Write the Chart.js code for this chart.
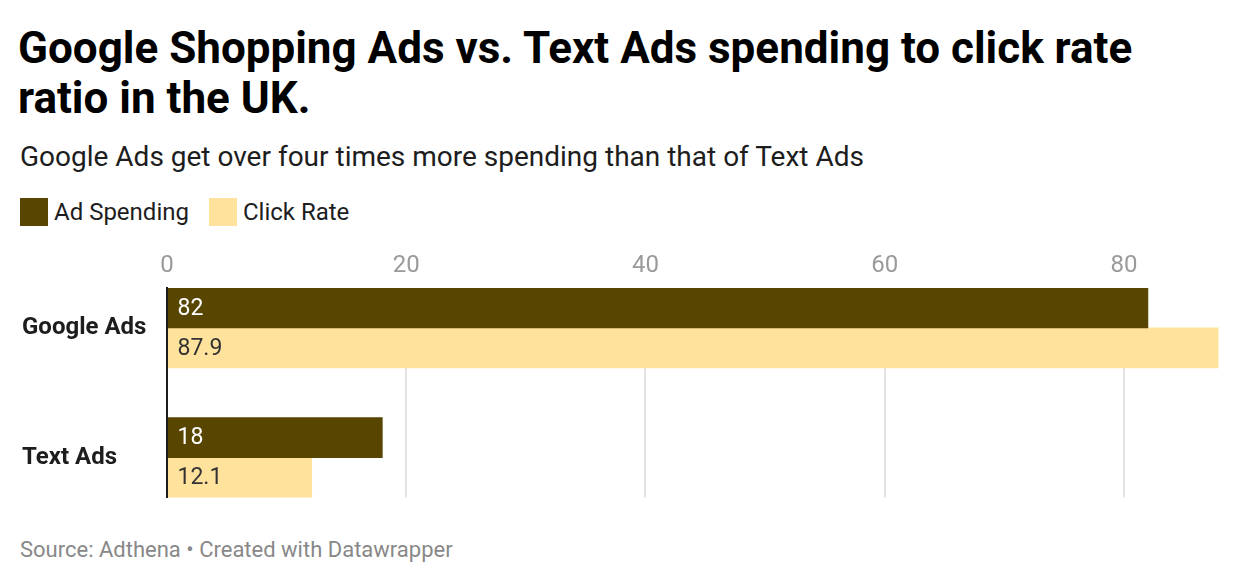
<!DOCTYPE html>
<html>
<head>
<meta charset="utf-8">
<script src="https://cdn.jsdelivr.net/npm/chart.js@4.4.1/dist/chart.umd.min.js"></script>
<style>
  html, body { margin: 0; padding: 0; background: #fff; }
  body { width: 1240px; height: 584px; position: relative; overflow: hidden; font-family: Roboto, "Noto Sans", sans-serif; }
  #title { position: absolute; left: 18px; top: 23px; font-size: 44px; font-weight: 700; line-height: 50px; color: #000; white-space: nowrap; }
  #subtitle { position: absolute; left: 20px; top: 140px; font-size: 28px; line-height: 34px; color: #1d1d1d; white-space: nowrap; }
  #legend { position: absolute; left: 20px; top: 198px; height: 28px; display: flex; }
  #legend .item { display: flex; align-items: center; margin-right: 20px; }
  #legend .sw { width: 28px; height: 28px; }
  #legend .lab { font-size: 24px; line-height: 28px; margin-left: 6px; color: #1d1d1d; white-space: nowrap; }
  #source { position: absolute; left: 20px; top: 538px; font-size: 22px; line-height: 24px; color: #888; white-space: nowrap; }
  #wrap { position: absolute; left: 0; top: 240px; width: 1240px; height: 275px; }
</style>
</head>
<body>
<div id="title">Google Shopping Ads vs. Text Ads spending to click rate<br>ratio in the UK.</div>
<div id="subtitle">Google Ads get over four times more spending than that of Text Ads</div>
<div id="legend"></div>
<div id="wrap"><canvas id="chart"></canvas></div>
<div id="source">Source: Adthena • Created with Datawrapper</div>
<script>
// ---- Data ----
const categories = ["Google Ads", "Text Ads"];
const seriesNames = ["Ad Spending", "Click Rate"];
const adSpending = [82, 18];
const clickRate = [87.9, 12.1];
const xTickStep = 20;

// ---- Styles ----
const seriesColors = ["#574500", "#ffe39c"];
const valueLabelColors = ["#ffffff", "#333333"];

// Legend (HTML)
const legendEl = document.getElementById("legend");
seriesNames.forEach((name, i) => {
  const item = document.createElement("div");
  item.className = "item";
  const sw = document.createElement("div");
  sw.className = "sw";
  sw.style.background = seriesColors[i];
  const lab = document.createElement("div");
  lab.className = "lab";
  lab.textContent = name;
  item.appendChild(sw);
  item.appendChild(lab);
  legendEl.appendChild(item);
});

const seriesValues = [adSpending, clickRate];
const datasets = seriesValues.map((vals, s) => ({
  label: seriesNames[s],
  data: vals.map((v, i) => ({ x: v, y: i })),
  backgroundColor: seriesColors[s],
  borderWidth: 0,
  barThickness: 40,
  grouped: true
}));

const valueLabelPlugin = {
  id: "valueLabels",
  afterDatasetsDraw(chart) {
    const ctx = chart.ctx;
    ctx.save();
    ctx.font = "23px Roboto";
    ctx.textBaseline = "middle";
    ctx.textAlign = "left";
    chart.data.datasets.forEach((ds, s) => {
      const meta = chart.getDatasetMeta(s);
      meta.data.forEach((bar, i) => {
        ctx.fillStyle = valueLabelColors[s];
        ctx.fillText(String(seriesValues[s][i]), bar.base + 9.5, bar.y + 1);
      });
    });
    ctx.restore();
  }
};

const maxVal = Math.max(...adSpending, ...clickRate);
const groupPad = 40 / 130;

new Chart(document.getElementById("chart"), {
  type: "bar",
  data: { datasets },
  plugins: [valueLabelPlugin],
  options: {
    indexAxis: "y",
    responsive: true,
    maintainAspectRatio: false,
    animation: false,
    layout: { padding: { left: 22, right: 21.5, top: 0, bottom: 0 } },
    plugins: {
      legend: { display: false },
      tooltip: { enabled: false },
      title: { display: false }
    },
    scales: {
      x: {
        type: "linear",
        position: "top",
        min: 0,
        max: maxVal,
        ticks: {
          stepSize: xTickStep,
          includeBounds: false,
          color: "#9a9a9a",
          font: { family: "Roboto", size: 24 },
          padding: 8
        },
        grid: { color: "#e3e3e3", lineWidth: 2, drawTicks: false },
        border: { display: false },
        afterFit(scale) { scale.height = 48; }
      },
      y: {
        type: "linear",
        reverse: true,
        offset: false,
        min: -groupPad,
        max: categories.length - 1 + groupPad,
        afterBuildTicks(scale) {
          scale.ticks = categories.map((_, i) => ({ value: i }));
        },
        ticks: {
          crossAlign: "far",
          color: "#1d1d1d",
          font: { family: "Roboto", size: 24, weight: "bold" },
          callback: (v) => categories[v],
          autoSkip: false
        },
        grid: { display: false, drawTicks: false, offset: false },
        border: { display: true, color: "#1d1d1d", width: 2, z: 1 },
        afterFit(scale) { scale.width = 145; }
      }
    }
  }
});
</script>
</body>
</html>
